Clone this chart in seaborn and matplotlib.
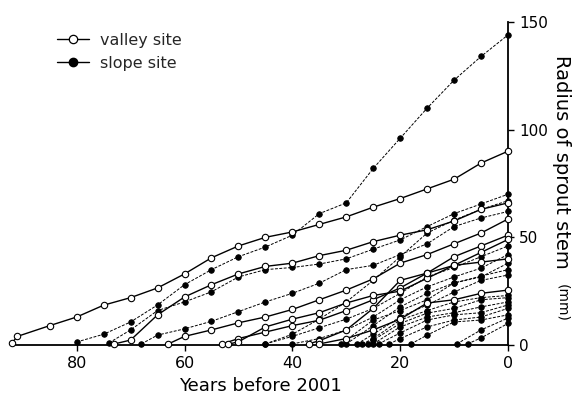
import matplotlib
matplotlib.use('Agg')
import matplotlib.pyplot as plt
import seaborn as sns
from matplotlib.lines import Line2D

# ---------------- data (years before 2001, radius in mm) ----------------
v1_years = [92, 91, 85, 80, 75, 70, 65, 60, 55, 50, 45, 40, 35, 30, 25, 20, 15, 10, 5, 0]
v1_vals = [1, 4, 9, 13, 18.5, 22, 26.5, 33, 40.5, 46, 50, 52.5, 56, 59.5, 64, 68, 72.5, 77, 84.5, 90]
v2_years = [73, 70, 65, 60, 55, 50, 45, 40, 35, 30, 25, 20, 15, 10, 5, 0]
v2_vals = [0.5, 2.3, 14, 22.3, 28, 33, 36.5, 38, 41.5, 44, 48, 51, 53.5, 57.6, 63, 66]
v3_years = [63, 60, 55, 50, 45, 40, 35, 30, 25, 20, 15, 10, 5, 0]
v3_vals = [0.5, 4, 7, 10.3, 13, 16.5, 21, 25.5, 30.7, 38, 42, 47, 52, 58.5]
v4_years = [53, 50, 45, 40, 35, 30, 25, 20, 15, 10, 5, 0]
v4_vals = [0.5, 3, 6, 9, 11.5, 16, 21, 26.5, 33.4, 41, 46, 51]
v5_years = [52, 50, 45, 40, 35, 30, 25, 20, 15, 10, 5, 0]
v5_vals = [0.3, 1.5, 8.4, 12, 15, 19.5, 23, 25, 31, 37, 43, 49]
v6_years = [37, 35, 30, 25, 20, 15, 10, 5, 0]
v6_vals = [0.5, 2, 7, 17, 30, 33.4, 37, 38.5, 40]
v7_years = [35, 30, 25, 20, 15, 10, 5, 0]
v7_vals = [0.5, 3, 7, 12, 19.5, 21, 24, 25.5]

s1_years = [80, 75, 70, 65, 60, 55, 50, 45, 40, 35, 30, 25, 20, 15, 10, 5, 0]
s1_vals = [1.4, 5, 10.7, 18.6, 28, 35, 41, 45.5, 51, 61, 66, 82, 96, 110, 123, 134, 144]
s2_years = [74, 70, 65, 60, 55, 50, 45, 40, 35, 30, 25, 20, 15, 10, 5, 0]
s2_vals = [1, 7, 16, 20, 24.7, 31.6, 35, 36, 37.6, 40, 44.5, 48.8, 55, 61, 65.5, 70]
s3_years = [68, 65, 60, 55, 50, 45, 40, 35, 30, 25, 20, 15, 10, 5, 0]
s3_vals = [0.5, 4.6, 7.5, 11, 15.5, 20, 24, 28.7, 35, 37, 42, 47, 55, 59, 62]
s4_years = [45, 40, 35, 30, 25, 20, 15, 10, 5, 0]
s4_vals = [0.5, 5, 12, 20, 30, 41, 52, 58, 63, 67]
s5_years = [45, 40, 35, 30, 25, 20, 15, 10, 5, 0]
s5_vals = [0.5, 4, 8, 12, 17, 24, 31.6, 36, 41, 46]
s6_years = [40, 35, 30, 25, 20, 15, 10, 5, 0]
s6_vals = [0.5, 3, 7, 13, 21, 27, 31.6, 35.7, 42]
s7_years = [31, 30, 25, 20, 15, 10, 5, 0]
s7_vals = [0.5, 2.3, 11.6, 16, 21, 28.8, 31.6, 38]
s8_years = [30, 25, 20, 15, 10, 5, 0]
s8_vals = [0.5, 9, 17.7, 24, 28.8, 32, 35]
s9_years = [28, 25, 20, 15, 10, 5, 0]
s9_vals = [0.5, 5, 13, 18.6, 24.6, 30, 32.5]
s10_years = [27, 25, 20, 15, 10, 5, 0]
s10_vals = [0.5, 3, 11.6, 16, 20, 22, 23]
s11_years = [26, 25, 20, 15, 10, 5, 0]
s11_vals = [0.3, 2.3, 10, 14.8, 17, 21, 22]
s12_years = [25, 20, 15, 10, 5, 0]
s12_vals = [0.5, 8.4, 13, 15, 17.7, 20]
s13_years = [24, 20, 15, 10, 5, 0]
s13_vals = [0.5, 5.6, 11.6, 14, 15, 18.6]
s14_years = [22, 20, 15, 10, 5, 0]
s14_vals = [0.5, 3, 8.4, 11.6, 13, 17]
s15_years = [18, 15, 10, 5, 0]
s15_vals = [0.5, 4.6, 10.7, 11.6, 14]
s16_years = [9.5, 5, 0]
s16_vals = [0.5, 7, 12.5]
s17_years = [7.5, 5, 0]
s17_vals = [0.5, 3.3, 10]

valley_lines = [(v1_years, v1_vals), (v2_years, v2_vals), (v3_years, v3_vals),
                (v4_years, v4_vals), (v5_years, v5_vals), (v6_years, v6_vals),
                (v7_years, v7_vals)]
slope_lines = [(s1_years, s1_vals), (s2_years, s2_vals), (s3_years, s3_vals),
               (s4_years, s4_vals), (s5_years, s5_vals), (s6_years, s6_vals),
               (s7_years, s7_vals), (s8_years, s8_vals), (s9_years, s9_vals),
               (s10_years, s10_vals), (s11_years, s11_vals), (s12_years, s12_vals),
               (s13_years, s13_vals), (s14_years, s14_vals), (s15_years, s15_vals),
               (s16_years, s16_vals), (s17_years, s17_vals)]

x_ticks = [80, 60, 40, 20, 0]
y_ticks = [0, 50, 100, 150]
legend_labels = ['valley site', 'slope site']

# ---------------- figure ----------------
sns.set_theme(style='white')
plt.rcParams['font.family'] = ['DejaVu Sans']

fig = plt.figure(figsize=(5.8, 4.01), dpi=100)
ax = fig.add_axes([12 / 580, 56 / 401, 496 / 580, 323 / 401])

for yrs, vals in slope_lines:
    sns.lineplot(x=yrs, y=vals, ax=ax, color='black', linewidth=0.7,
                 linestyle=(0, (3, 1.5)), marker='o', markersize=4.0,
                 markerfacecolor='black', markeredgecolor='black',
                 markeredgewidth=0.6, clip_on=False, sort=False,
                 estimator=None, legend=False, zorder=3)
for yrs, vals in valley_lines:
    sns.lineplot(x=yrs, y=vals, ax=ax, color='black', linewidth=1.0,
                 linestyle='-', marker='o', markersize=4.6,
                 markerfacecolor='white', markeredgecolor='black',
                 markeredgewidth=0.8, clip_on=False, sort=False,
                 estimator=None, legend=False, zorder=4)

ax.set_xlim(92, 0)
ax.set_ylim(0, 150)
ax.set_xticks(x_ticks)
ax.set_xticklabels([str(t) for t in x_ticks], fontsize=11.5)
ax.yaxis.tick_right()
ax.set_yticks(y_ticks)
ax.set_yticklabels([str(t) for t in y_ticks], fontsize=11)
ax.tick_params(axis='x', direction='out', length=4, width=1, pad=4, colors='black', bottom=True)
ax.tick_params(axis='y', direction='out', length=4, width=1, pad=4, colors='black', right=True, left=False)
for side in ['top', 'left']:
    ax.spines[side].set_visible(False)
for side in ['bottom', 'right']:
    ax.spines[side].set_color('black')
    ax.spines[side].set_linewidth(1.3)
ax.set_xlabel('Years before 2001', fontsize=13, labelpad=4, color='black')
ax.set_ylabel('')

fig.text(562 / 580, 1 - 55 / 401, 'Radius of sprout stem', rotation=270,
         ha='center', va='top', fontsize=14, color='black')
fig.text(562 / 580, 1 - 284 / 401, '(mm)', rotation=270,
         ha='center', va='top', fontsize=10, color='black')

handles = [
    Line2D([0], [0], color='black', lw=1.0, marker='o', markersize=6,
           markerfacecolor='white', markeredgecolor='black', markeredgewidth=0.9),
    Line2D([0], [0], color='black', lw=1.0, marker='o', markersize=6,
           markerfacecolor='black', markeredgecolor='black'),
]
ax.legend(handles, legend_labels, loc='upper left',
          bbox_to_anchor=(57 / 580, 1 - 33 / 401), bbox_transform=fig.transFigure,
          frameon=False, fontsize=11.5, handlelength=2.0, handletextpad=0.7,
          labelspacing=0.5, borderpad=0, borderaxespad=0)

fig.savefig('out.png', dpi=100)
